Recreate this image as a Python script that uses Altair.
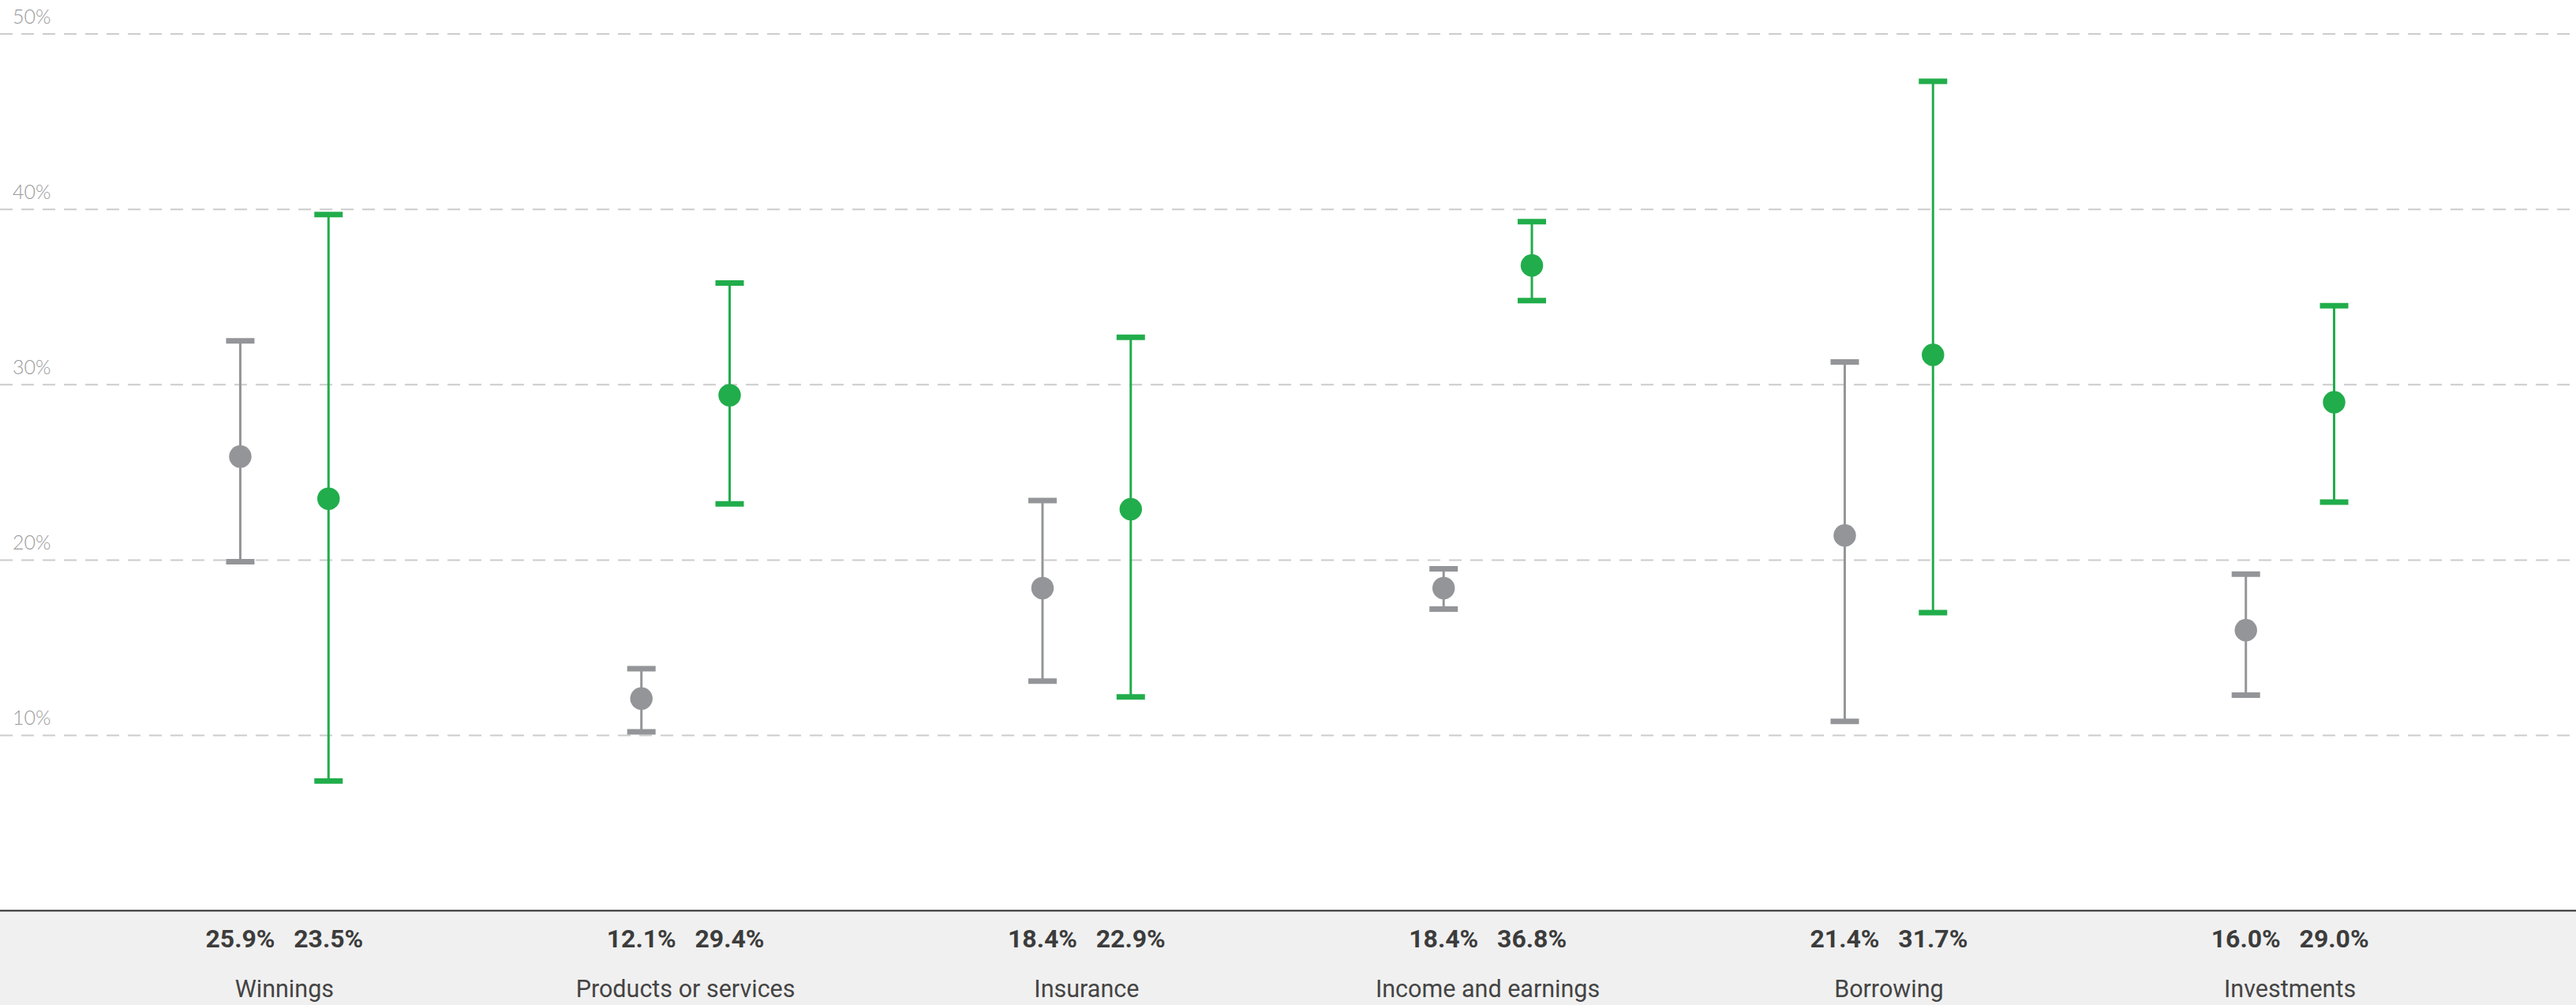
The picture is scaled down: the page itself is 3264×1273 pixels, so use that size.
import altair as alt
import pandas as pd

# Share of respondents by category, two survey groups, with confidence intervals
categories = ["Winnings", "Products or services", "Insurance",
              "Income and earnings", "Borrowing", "Investments"]

grey_mid = [25.9, 12.1, 18.4, 18.4, 21.4, 16.0]
grey_low = [19.9, 10.2, 13.1, 17.2, 10.8, 12.3]
grey_high = [32.5, 13.8, 23.4, 19.5, 31.3, 19.2]

green_mid = [23.5, 29.4, 22.9, 36.8, 31.7, 29.0]
green_low = [7.4, 23.2, 12.2, 34.8, 17.0, 23.3]
green_high = [39.7, 35.8, 32.7, 39.3, 47.3, 34.5]

y_ticks = [10, 20, 30, 40, 50]

# Layout constants
W, H = 3264, 1273
X_MIN, X_MAX = -0.709, 5.713      # category index range across the width
PAIR_OFFSET = 0.11                # horizontal shift of each group from the category centre
Y_MIN, Y_MAX = -5.376, 51.94      # lower part of the scale holds the label strip
GREY, GREEN = "#939598", "#21ad4b"

rows = []
for i, cat in enumerate(categories):
    rows.append(dict(category=cat, idx=i, series="Grey", xpos=i - PAIR_OFFSET,
                     mid=grey_mid[i], low=grey_low[i], high=grey_high[i]))
    rows.append(dict(category=cat, idx=i, series="Green", xpos=i + PAIR_OFFSET,
                     mid=green_mid[i], low=green_low[i], high=green_high[i]))
df = pd.DataFrame(rows)
cat_df = pd.DataFrame({"category": categories, "idx": list(range(len(categories)))})
tick_df = pd.DataFrame({"value": y_ticks})

x_scale = alt.Scale(domain=[X_MIN, X_MAX], nice=False, zero=False)
y_scale = alt.Scale(domain=[Y_MIN, Y_MAX], nice=False, zero=False)
color = alt.Color("series:N", scale=alt.Scale(domain=["Grey", "Green"], range=[GREY, GREEN]),
                  legend=None)

one = pd.DataFrame({"k": [0]})

# Grey strip under the baseline that holds the labels
strip = alt.Chart(one).mark_rect(color="#f0f0f0").encode(
    x=alt.XDatum(X_MIN, scale=x_scale, axis=None),
    x2=alt.X2Datum(X_MAX),
    y=alt.YDatum(Y_MIN, scale=y_scale, axis=None),
    y2=alt.Y2Datum(0),
)

# Dashed horizontal gridlines and their percentage labels
grid = alt.Chart(tick_df).mark_rule(color="#cccccc", strokeWidth=2,
                                    strokeDash=[16, 11]).encode(
    x=alt.XDatum(X_MIN, scale=x_scale, axis=None),
    x2=alt.X2Datum(X_MAX),
    y=alt.Y("value:Q", scale=y_scale, axis=None),
)

grid_labels = alt.Chart(tick_df).transform_calculate(
    label="datum.value + '%'"
).mark_text(font="Lato", fontWeight=300, fontSize=25, color="#9a9a9a",
            align="left", baseline="alphabetic", dx=16, dy=-13).encode(
    x=alt.XDatum(X_MIN, scale=x_scale, axis=None),
    y=alt.Y("value:Q", scale=y_scale, axis=None),
    text="label:N",
)

baseline = alt.Chart(one).mark_rule(color="#2a2a2a", strokeWidth=2).encode(
    x=alt.XDatum(X_MIN, scale=x_scale, axis=None),
    x2=alt.X2Datum(X_MAX),
    y=alt.YDatum(0, scale=y_scale, axis=None),
)

base = alt.Chart(df).encode(
    x=alt.X("xpos:Q", scale=x_scale, axis=None),
    color=color,
)

bars = base.mark_rule(strokeWidth=3).encode(
    y=alt.Y("low:Q", scale=y_scale, axis=None),
    y2="high:Q",
)

caps_low = base.mark_tick(orient="horizontal", size=36, thickness=7, opacity=1).encode(
    y=alt.Y("low:Q", scale=y_scale, axis=None),
)
caps_high = base.mark_tick(orient="horizontal", size=36, thickness=7, opacity=1).encode(
    y=alt.Y("high:Q", scale=y_scale, axis=None),
)

points = base.mark_point(filled=True, shape="circle", size=810, opacity=1).encode(
    y=alt.Y("mid:Q", scale=y_scale, axis=None),
)

values = alt.Chart(df).transform_calculate(
    label="format(datum.mid, '.1f') + '%'"
).mark_text(font="Roboto", fontWeight="bold", fontSize=32, color="#3c3c3c",
            align="center", baseline="alphabetic").encode(
    x=alt.X("xpos:Q", scale=x_scale, axis=None),
    y=alt.value(1200),
    text="label:N",
)

names = alt.Chart(cat_df).mark_text(font="Roboto", fontSize=30.5, color="#444444",
                                    align="center", baseline="alphabetic").encode(
    x=alt.X("idx:Q", scale=x_scale, axis=None),
    y=alt.value(1263),
    text="category:N",
)

chart = alt.layer(
    strip, grid, grid_labels, bars, caps_low, caps_high, points, baseline, values, names
).properties(
    width=W, height=H,
    autosize=alt.AutoSizeParams(type="none"),
    padding=0,
    background="white",
).configure_view(stroke=None)

chart.save("out.html", embed_options={"renderer": "svg", "actions": False})
